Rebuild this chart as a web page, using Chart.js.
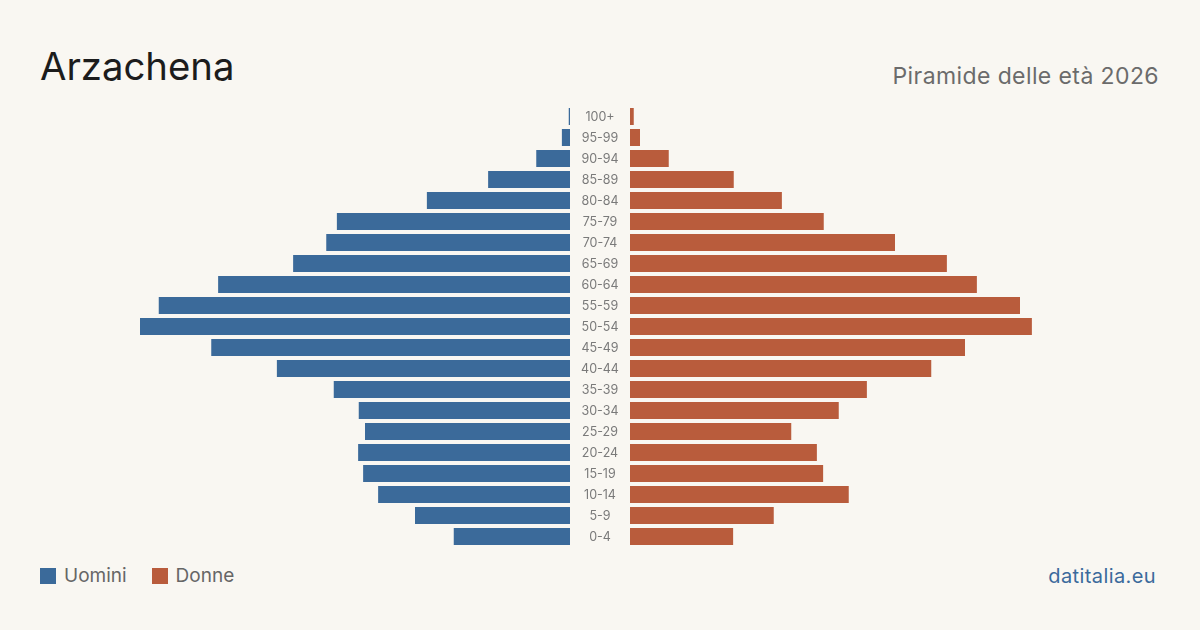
<!DOCTYPE html>
<html>
<head>
<meta charset="utf-8">
<script src="https://cdn.jsdelivr.net/npm/chart.js@4.4.1/dist/chart.umd.min.js"></script>
<style>
  html, body { margin: 0; padding: 0; }
  body {
    width: 1200px; height: 630px; position: relative; overflow: hidden;
    background: #f9f7f2; font-family: Inter, "Noto Sans", sans-serif;
  }
  .title { position: absolute; left: 40px; top: 42px; font-size: 38.3px; color: #1c1c1c; line-height: 48px; }
  .subtitle { position: absolute; right: 41px; top: 62px; font-size: 23px; letter-spacing: 0.4px; color: #6b6b6b; line-height: 28px; }
  #wrap { position: absolute; left: 0; top: 106px; width: 1200px; height: 441px; }
  .legend { position: absolute; left: 40px; top: 564px; font-size: 19px; color: #666; line-height: 24px; display: flex; align-items: center; }
  .legend .sw { display: inline-block; width: 16px; height: 16px; margin-right: 8px; }
  .legend .item { display: flex; align-items: center; margin-right: 25px; }
  .brand { position: absolute; right: 44px; top: 564px; font-size: 20px; letter-spacing: 0.4px; color: #3b6a9c; line-height: 24px; }
</style>
</head>
<body>
<div class="title">Arzachena</div>
<div class="subtitle">Piramide delle età 2026</div>
<div id="wrap"><canvas id="pyramid" width="1200" height="441"></canvas></div>
<div class="legend">
  <span class="item"><span class="sw" style="background:#3b6a9a"></span>Uomini</span>
  <span class="item"><span class="sw" style="background:#b95c3c"></span>Donne</span>
</div>
<div class="brand">datitalia.eu</div>

<script>
const ages = ["0-4", "5-9", "10-14", "15-19", "20-24", "25-29", "30-34", "35-39", "40-44", "45-49",
  "50-54", "55-59", "60-64", "65-69", "70-74", "75-79", "80-84", "85-89", "90-94", "95-99", "100+"];
const uomini = [186, 248, 307, 331, 339, 328, 338, 378, 469, 574, 688, 658, 563, 443, 390, 373, 229, 131, 54, 13, 2];
const donne = [165, 230, 350, 309, 299, 258, 334, 379, 482, 536, 643, 624, 555, 507, 424, 310, 243, 166, 62, 16, 6];

const GAP = 48;   // half of the centre gap, in data units
const SPAN = 960; // half width of the x scale

// draws the age labels in the middle gap
const centerLabels = {
  id: "centerLabels",
  afterDatasetsDraw(chart) {
    const ctx = chart.ctx;
    const x = chart.scales.x.getPixelForValue(0);
    ctx.save();
    ctx.font = "12.5px Inter, sans-serif";
    ctx.fillStyle = "#7a7a7a";
    ctx.textAlign = "center";
    ctx.textBaseline = "middle";
    ages.forEach((a, i) => {
      ctx.fillText(a, x, chart.scales.y.getPixelForValue(i) + 1);
    });
    ctx.restore();
  },
};

new Chart(document.getElementById("pyramid"), {
  type: "bar",
  data: {
    labels: ages,
    datasets: [
      {
        label: "Uomini",
        data: uomini.map((v) => [-GAP - v, -GAP]),
        backgroundColor: "#3b6a9a",
        grouped: false,
        barPercentage: 0.81,
        categoryPercentage: 1,
      },
      {
        label: "Donne",
        data: donne.map((v) => [GAP, GAP + v]),
        backgroundColor: "#b95c3c",
        grouped: false,
        barPercentage: 0.81,
        categoryPercentage: 1,
      },
    ],
  },
  options: {
    indexAxis: "y",
    responsive: false,
    animation: false,
    layout: { padding: 0 },
    plugins: { legend: { display: false }, tooltip: { enabled: false } },
    scales: {
      x: { display: false, min: -SPAN, max: SPAN },
      y: { display: false, reverse: true },
    },
  },
  plugins: [centerLabels],
});
</script>
</body>
</html>
